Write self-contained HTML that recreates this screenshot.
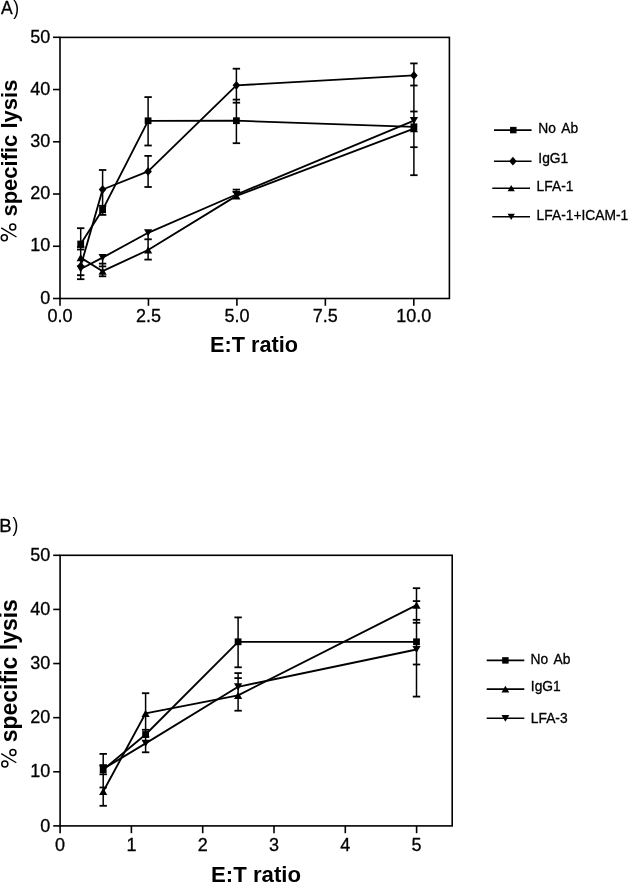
<!DOCTYPE html>
<html><head><meta charset="utf-8"><title>Specific lysis</title>
<style>
html,body{margin:0;padding:0;background:#fff;}
body{width:628px;height:882px;overflow:hidden;font-family:"Liberation Sans",sans-serif;}
svg{display:block;will-change:transform;}
</style></head><body>
<svg width="628" height="882" viewBox="0 0 628 882">
<rect width="628" height="882" fill="#fff"/>
<g stroke="#000" fill="#000">
<rect x="60.0" y="37.4" width="389.4" height="261.1" fill="none" stroke-width="1.6"/>
<line x1="53.00" y1="298.50" x2="60.00" y2="298.50" stroke-width="1.6"/>
<line x1="53.00" y1="246.26" x2="60.00" y2="246.26" stroke-width="1.6"/>
<line x1="53.00" y1="194.02" x2="60.00" y2="194.02" stroke-width="1.6"/>
<line x1="53.00" y1="141.78" x2="60.00" y2="141.78" stroke-width="1.6"/>
<line x1="53.00" y1="89.54" x2="60.00" y2="89.54" stroke-width="1.6"/>
<line x1="53.00" y1="37.30" x2="60.00" y2="37.30" stroke-width="1.6"/>
<line x1="60.00" y1="298.50" x2="60.00" y2="305.80" stroke-width="1.6"/>
<line x1="148.45" y1="298.50" x2="148.45" y2="305.80" stroke-width="1.6"/>
<line x1="236.90" y1="298.50" x2="236.90" y2="305.80" stroke-width="1.6"/>
<line x1="325.35" y1="298.50" x2="325.35" y2="305.80" stroke-width="1.6"/>
<line x1="413.80" y1="298.50" x2="413.80" y2="305.80" stroke-width="1.6"/>
<line x1="80.70" y1="228.20" x2="80.70" y2="279.20" stroke-width="1.5"/>
<line x1="77.00" y1="228.20" x2="84.40" y2="228.20" stroke-width="1.8"/>
<line x1="77.00" y1="247.00" x2="84.40" y2="247.00" stroke-width="1.8"/>
<line x1="77.00" y1="249.50" x2="84.40" y2="249.50" stroke-width="1.8"/>
<line x1="77.00" y1="275.20" x2="84.40" y2="275.20" stroke-width="1.8"/>
<line x1="77.00" y1="279.20" x2="84.40" y2="279.20" stroke-width="1.8"/>
<line x1="102.60" y1="170.00" x2="102.60" y2="214.90" stroke-width="1.5"/>
<line x1="102.60" y1="254.50" x2="102.60" y2="276.30" stroke-width="1.5"/>
<line x1="98.90" y1="170.00" x2="106.30" y2="170.00" stroke-width="1.8"/>
<line x1="98.90" y1="205.80" x2="106.30" y2="205.80" stroke-width="1.8"/>
<line x1="98.90" y1="214.90" x2="106.30" y2="214.90" stroke-width="1.8"/>
<line x1="98.90" y1="263.60" x2="106.30" y2="263.60" stroke-width="1.8"/>
<line x1="98.90" y1="266.40" x2="106.30" y2="266.40" stroke-width="1.8"/>
<line x1="98.90" y1="276.30" x2="106.30" y2="276.30" stroke-width="1.8"/>
<line x1="148.10" y1="97.10" x2="148.10" y2="145.50" stroke-width="1.5"/>
<line x1="148.10" y1="155.90" x2="148.10" y2="187.00" stroke-width="1.5"/>
<line x1="148.10" y1="231.70" x2="148.10" y2="259.60" stroke-width="1.5"/>
<line x1="144.40" y1="97.10" x2="151.80" y2="97.10" stroke-width="1.8"/>
<line x1="144.40" y1="145.50" x2="151.80" y2="145.50" stroke-width="1.8"/>
<line x1="144.40" y1="155.90" x2="151.80" y2="155.90" stroke-width="1.8"/>
<line x1="144.40" y1="187.00" x2="151.80" y2="187.00" stroke-width="1.8"/>
<line x1="144.40" y1="239.30" x2="151.80" y2="239.30" stroke-width="1.8"/>
<line x1="144.40" y1="259.60" x2="151.80" y2="259.60" stroke-width="1.8"/>
<line x1="236.40" y1="68.70" x2="236.40" y2="143.20" stroke-width="1.5"/>
<line x1="236.40" y1="189.60" x2="236.40" y2="198.70" stroke-width="1.5"/>
<line x1="232.70" y1="68.70" x2="240.10" y2="68.70" stroke-width="1.8"/>
<line x1="232.70" y1="99.60" x2="240.10" y2="99.60" stroke-width="1.8"/>
<line x1="232.70" y1="102.70" x2="240.10" y2="102.70" stroke-width="1.8"/>
<line x1="232.70" y1="143.20" x2="240.10" y2="143.20" stroke-width="1.8"/>
<line x1="232.70" y1="189.60" x2="240.10" y2="189.60" stroke-width="1.8"/>
<line x1="232.70" y1="191.90" x2="240.10" y2="191.90" stroke-width="1.8"/>
<line x1="413.90" y1="63.40" x2="413.90" y2="175.20" stroke-width="1.5"/>
<line x1="410.20" y1="63.40" x2="417.60" y2="63.40" stroke-width="1.8"/>
<line x1="410.20" y1="85.50" x2="417.60" y2="85.50" stroke-width="1.8"/>
<line x1="410.20" y1="111.50" x2="417.60" y2="111.50" stroke-width="1.8"/>
<line x1="410.20" y1="147.20" x2="417.60" y2="147.20" stroke-width="1.8"/>
<line x1="410.20" y1="175.20" x2="417.60" y2="175.20" stroke-width="1.8"/>
<polyline points="80.70,244.00 102.60,209.80 148.10,120.80 236.40,120.70 413.90,126.80" fill="none" stroke-width="1.85" stroke-linejoin="round"/>
<polyline points="80.70,266.20 102.60,189.50 148.10,171.40 236.40,85.30 413.90,75.40" fill="none" stroke-width="1.85" stroke-linejoin="round"/>
<polyline points="80.70,257.60 102.60,271.20 148.10,250.00 236.40,195.90 413.90,128.70" fill="none" stroke-width="1.85" stroke-linejoin="round"/>
<polyline points="80.70,269.00 102.60,257.60 148.10,232.80 236.40,194.50 413.90,120.70" fill="none" stroke-width="1.85" stroke-linejoin="round"/>
<rect x="77.30" y="240.60" width="6.80" height="6.80" stroke="none"/>
<rect x="99.20" y="206.40" width="6.80" height="6.80" stroke="none"/>
<rect x="144.70" y="117.40" width="6.80" height="6.80" stroke="none"/>
<rect x="233.00" y="117.30" width="6.80" height="6.80" stroke="none"/>
<rect x="410.50" y="123.40" width="6.80" height="6.80" stroke="none"/>
<polygon points="76.90,266.20 80.70,261.80 84.50,266.20 80.70,270.60" stroke="none"/>
<polygon points="98.80,189.50 102.60,185.10 106.40,189.50 102.60,193.90" stroke="none"/>
<polygon points="144.30,171.40 148.10,167.00 151.90,171.40 148.10,175.80" stroke="none"/>
<polygon points="232.60,85.30 236.40,80.90 240.20,85.30 236.40,89.70" stroke="none"/>
<polygon points="410.10,75.40 413.90,71.00 417.70,75.40 413.90,79.80" stroke="none"/>
<polygon points="76.60,261.20 80.70,254.00 84.80,261.20" stroke="none"/>
<polygon points="98.50,274.80 102.60,267.60 106.70,274.80" stroke="none"/>
<polygon points="144.00,253.60 148.10,246.40 152.20,253.60" stroke="none"/>
<polygon points="232.30,199.50 236.40,192.30 240.50,199.50" stroke="none"/>
<polygon points="409.80,132.30 413.90,125.10 418.00,132.30" stroke="none"/>
<polygon points="76.60,265.40 80.70,272.60 84.80,265.40" stroke="none"/>
<polygon points="98.50,254.00 102.60,261.20 106.70,254.00" stroke="none"/>
<polygon points="144.00,229.20 148.10,236.40 152.20,229.20" stroke="none"/>
<polygon points="232.30,190.90 236.40,198.10 240.50,190.90" stroke="none"/>
<polygon points="409.80,117.10 413.90,124.30 418.00,117.10" stroke="none"/>
</g>
<g font-family="&quot;Liberation Sans&quot;, sans-serif" fill="#000">
<text x="1.0" y="14.0" font-size="17.5" text-anchor="start" stroke="#000" stroke-width="0.3">A</text>
<text transform="translate(13.3 14.6) scale(0.95 1.12)" font-size="18.5">)</text>
<text x="50.2" y="304" font-size="18" text-anchor="end" stroke="#000" stroke-width="0.3">0</text>
<text x="50.2" y="251" font-size="18" text-anchor="end" stroke="#000" stroke-width="0.3">10</text>
<text x="50.2" y="199" font-size="18" text-anchor="end" stroke="#000" stroke-width="0.3">20</text>
<text x="50.2" y="147" font-size="18" text-anchor="end" stroke="#000" stroke-width="0.3">30</text>
<text x="50.2" y="95" font-size="18" text-anchor="end" stroke="#000" stroke-width="0.3">40</text>
<text x="50.2" y="43" font-size="18" text-anchor="end" stroke="#000" stroke-width="0.3">50</text>
<text x="60.0" y="322.2" font-size="18" text-anchor="middle" stroke="#000" stroke-width="0.3">0.0</text>
<text x="148.45" y="322.2" font-size="18" text-anchor="middle" stroke="#000" stroke-width="0.3">2.5</text>
<text x="236.9" y="322.2" font-size="18" text-anchor="middle" stroke="#000" stroke-width="0.3">5.0</text>
<text x="325.35" y="322.2" font-size="18" text-anchor="middle" stroke="#000" stroke-width="0.3">7.5</text>
<text x="413.8" y="322.2" font-size="18" text-anchor="middle" stroke="#000" stroke-width="0.3">10.0</text>
<text x="254.0" y="352.3" font-size="21.7" text-anchor="middle" font-weight="bold">E:T ratio</text>
<text x="16.6" y="216.6" font-size="22" text-anchor="start" font-weight="bold" transform="rotate(-90 16.6 216.6)">specific lysis</text>
<g fill="none" stroke="#000" stroke-width="1.5"><circle cx="12.7" cy="226.9" r="3.0"/><circle cx="4.3" cy="237.7" r="3.0"/><line x1="1.2" y1="227.9" x2="16.5" y2="237.0" stroke-width="1.3"/></g>
</g>
<g stroke="#000" fill="#000">
<line x1="494.00" y1="130.10" x2="531.60" y2="130.10" stroke-width="1.6"/>
<rect x="510.07" y="126.87" width="6.46" height="6.46" stroke="none"/>
<line x1="494.00" y1="161.20" x2="531.60" y2="161.20" stroke-width="1.6"/>
<polygon points="509.10,161.20 512.90,156.80 516.70,161.20 512.90,165.60" stroke="none"/>
<line x1="492.30" y1="188.20" x2="530.00" y2="188.20" stroke-width="1.6"/>
<polygon points="507.59,191.37 511.20,185.03 514.81,191.37" stroke="none"/>
<line x1="492.30" y1="216.80" x2="530.00" y2="216.80" stroke-width="1.6"/>
<polygon points="507.59,213.63 511.20,219.97 514.81,213.63" stroke="none"/>
</g>
<g font-family="&quot;Liberation Sans&quot;, sans-serif" fill="#000">
<text x="538.3" y="132.7" font-size="13.8" text-anchor="start" stroke="#000" stroke-width="0.3" word-spacing="2.2">No Ab</text>
<text x="538.3" y="163.3" font-size="13.8" text-anchor="start" stroke="#000" stroke-width="0.3">IgG1</text>
<text x="536.6" y="191.2" font-size="13.8" text-anchor="start" stroke="#000" stroke-width="0.3">LFA-1</text>
<text x="536.6" y="220.3" font-size="13.8" text-anchor="start" stroke="#000" stroke-width="0.3">LFA-1+ICAM-1</text>
</g>
<g stroke="#000" fill="#000">
<rect x="60.1" y="555.3" width="392.09999999999997" height="270.6" fill="none" stroke-width="1.6"/>
<line x1="53.20" y1="825.90" x2="60.10" y2="825.90" stroke-width="1.6"/>
<line x1="53.20" y1="771.78" x2="60.10" y2="771.78" stroke-width="1.6"/>
<line x1="53.20" y1="717.66" x2="60.10" y2="717.66" stroke-width="1.6"/>
<line x1="53.20" y1="663.54" x2="60.10" y2="663.54" stroke-width="1.6"/>
<line x1="53.20" y1="609.42" x2="60.10" y2="609.42" stroke-width="1.6"/>
<line x1="53.20" y1="555.30" x2="60.10" y2="555.30" stroke-width="1.6"/>
<line x1="60.10" y1="825.90" x2="60.10" y2="833.20" stroke-width="1.6"/>
<line x1="131.40" y1="825.90" x2="131.40" y2="833.20" stroke-width="1.6"/>
<line x1="202.70" y1="825.90" x2="202.70" y2="833.20" stroke-width="1.6"/>
<line x1="274.00" y1="825.90" x2="274.00" y2="833.20" stroke-width="1.6"/>
<line x1="345.30" y1="825.90" x2="345.30" y2="833.20" stroke-width="1.6"/>
<line x1="416.60" y1="825.90" x2="416.60" y2="833.20" stroke-width="1.6"/>
<line x1="103.20" y1="753.90" x2="103.20" y2="805.80" stroke-width="1.5"/>
<line x1="99.50" y1="753.90" x2="106.90" y2="753.90" stroke-width="1.8"/>
<line x1="99.50" y1="765.10" x2="106.90" y2="765.10" stroke-width="1.8"/>
<line x1="99.50" y1="774.30" x2="106.90" y2="774.30" stroke-width="1.8"/>
<line x1="99.50" y1="787.50" x2="106.90" y2="787.50" stroke-width="1.8"/>
<line x1="99.50" y1="805.80" x2="106.90" y2="805.80" stroke-width="1.8"/>
<line x1="145.60" y1="693.20" x2="145.60" y2="752.30" stroke-width="1.5"/>
<line x1="141.90" y1="693.20" x2="149.30" y2="693.20" stroke-width="1.8"/>
<line x1="141.90" y1="729.80" x2="149.30" y2="729.80" stroke-width="1.8"/>
<line x1="141.90" y1="736.80" x2="149.30" y2="736.80" stroke-width="1.8"/>
<line x1="141.90" y1="752.30" x2="149.30" y2="752.30" stroke-width="1.8"/>
<line x1="238.10" y1="617.40" x2="238.10" y2="667.30" stroke-width="1.5"/>
<line x1="238.10" y1="673.10" x2="238.10" y2="710.70" stroke-width="1.5"/>
<line x1="234.40" y1="617.40" x2="241.80" y2="617.40" stroke-width="1.8"/>
<line x1="234.40" y1="667.30" x2="241.80" y2="667.30" stroke-width="1.8"/>
<line x1="234.40" y1="673.10" x2="241.80" y2="673.10" stroke-width="1.8"/>
<line x1="234.40" y1="678.10" x2="241.80" y2="678.10" stroke-width="1.8"/>
<line x1="234.40" y1="710.70" x2="241.80" y2="710.70" stroke-width="1.8"/>
<line x1="416.50" y1="588.20" x2="416.50" y2="696.60" stroke-width="1.5"/>
<line x1="412.80" y1="588.20" x2="420.20" y2="588.20" stroke-width="1.8"/>
<line x1="412.80" y1="601.10" x2="420.20" y2="601.10" stroke-width="1.8"/>
<line x1="412.80" y1="619.80" x2="420.20" y2="619.80" stroke-width="1.8"/>
<line x1="412.80" y1="622.80" x2="420.20" y2="622.80" stroke-width="1.8"/>
<line x1="412.80" y1="664.50" x2="420.20" y2="664.50" stroke-width="1.8"/>
<line x1="412.80" y1="696.60" x2="420.20" y2="696.60" stroke-width="1.8"/>
<polyline points="103.20,769.70 145.60,734.50 238.10,641.80 416.50,641.80" fill="none" stroke-width="1.85" stroke-linejoin="round"/>
<polyline points="103.20,791.50 145.60,713.30 238.10,695.30 416.50,605.10" fill="none" stroke-width="1.85" stroke-linejoin="round"/>
<polyline points="103.20,769.00 145.60,743.40 238.10,686.80 416.50,649.50" fill="none" stroke-width="1.85" stroke-linejoin="round"/>
<rect x="99.80" y="766.30" width="6.80" height="6.80" stroke="none"/>
<rect x="142.20" y="731.10" width="6.80" height="6.80" stroke="none"/>
<rect x="234.70" y="638.40" width="6.80" height="6.80" stroke="none"/>
<rect x="413.10" y="638.40" width="6.80" height="6.80" stroke="none"/>
<polygon points="99.10,795.10 103.20,787.90 107.30,795.10" stroke="none"/>
<polygon points="141.50,716.90 145.60,709.70 149.70,716.90" stroke="none"/>
<polygon points="234.00,698.90 238.10,691.70 242.20,698.90" stroke="none"/>
<polygon points="412.40,608.70 416.50,601.50 420.60,608.70" stroke="none"/>
<polygon points="99.10,765.40 103.20,772.60 107.30,765.40" stroke="none"/>
<polygon points="141.50,739.80 145.60,747.00 149.70,739.80" stroke="none"/>
<polygon points="234.00,683.20 238.10,690.40 242.20,683.20" stroke="none"/>
<polygon points="412.40,645.90 416.50,653.10 420.60,645.90" stroke="none"/>
</g>
<g font-family="&quot;Liberation Sans&quot;, sans-serif" fill="#000">
<text x="-0.7" y="531.6" font-size="18.6" text-anchor="start" stroke="#000" stroke-width="0.3">B</text>
<text transform="translate(12.4 532.2) scale(0.95 1.06)" font-size="18.5">)</text>
<text x="50.2" y="832" font-size="18" text-anchor="end" stroke="#000" stroke-width="0.3">0</text>
<text x="50.2" y="777" font-size="18" text-anchor="end" stroke="#000" stroke-width="0.3">10</text>
<text x="50.2" y="723" font-size="18" text-anchor="end" stroke="#000" stroke-width="0.3">20</text>
<text x="50.2" y="669" font-size="18" text-anchor="end" stroke="#000" stroke-width="0.3">30</text>
<text x="50.2" y="615" font-size="18" text-anchor="end" stroke="#000" stroke-width="0.3">40</text>
<text x="50.2" y="561" font-size="18" text-anchor="end" stroke="#000" stroke-width="0.3">50</text>
<text x="60.1" y="851.0" font-size="18" text-anchor="middle" stroke="#000" stroke-width="0.3">0</text>
<text x="131.4" y="851.0" font-size="18" text-anchor="middle" stroke="#000" stroke-width="0.3">1</text>
<text x="202.7" y="851.0" font-size="18" text-anchor="middle" stroke="#000" stroke-width="0.3">2</text>
<text x="274.0" y="851.0" font-size="18" text-anchor="middle" stroke="#000" stroke-width="0.3">3</text>
<text x="345.3" y="851.0" font-size="18" text-anchor="middle" stroke="#000" stroke-width="0.3">4</text>
<text x="416.6" y="851.0" font-size="18" text-anchor="middle" stroke="#000" stroke-width="0.3">5</text>
<text x="256.0" y="882.0" font-size="22.2" text-anchor="middle" font-weight="bold">E:T ratio</text>
<text x="16.8" y="742.3" font-size="23" text-anchor="start" font-weight="bold" transform="rotate(-90 16.8 742.3)">specific lysis</text>
<g fill="none" stroke="#000" stroke-width="1.5"><circle cx="12.9" cy="752.5" r="3.0"/><circle cx="4.8" cy="763.9" r="3.0"/><line x1="1.2" y1="753.6" x2="16.3" y2="762.7" stroke-width="1.3"/></g>
</g>
<g stroke="#000" fill="#000">
<line x1="486.70" y1="660.40" x2="524.30" y2="660.40" stroke-width="1.6"/>
<rect x="502.17" y="657.17" width="6.46" height="6.46" stroke="none"/>
<line x1="486.70" y1="689.10" x2="524.30" y2="689.10" stroke-width="1.6"/>
<polygon points="501.50,692.52 505.40,685.68 509.29,692.52" stroke="none"/>
<line x1="486.70" y1="718.30" x2="524.30" y2="718.30" stroke-width="1.6"/>
<polygon points="501.50,714.88 505.40,721.72 509.29,714.88" stroke="none"/>
</g>
<g font-family="&quot;Liberation Sans&quot;, sans-serif" fill="#000">
<text x="530.5" y="663.6" font-size="13.8" text-anchor="start" stroke="#000" stroke-width="0.3" word-spacing="2.4">No Ab</text>
<text x="530.8" y="691.4" font-size="13.8" text-anchor="start" stroke="#000" stroke-width="0.3">IgG1</text>
<text x="530.8" y="722.6" font-size="13.8" text-anchor="start" stroke="#000" stroke-width="0.3">LFA-3</text>
</g>
</svg>
</body></html>
